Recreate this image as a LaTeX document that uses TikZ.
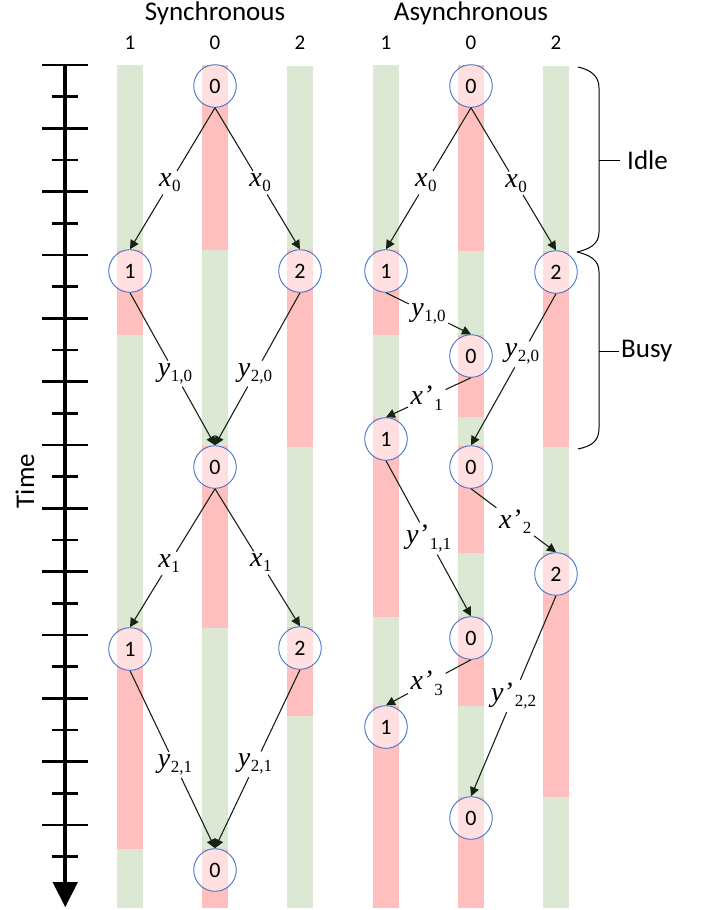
\documentclass[tikz,border=0pt]{standalone}
\usepackage{fontspec}
\setmainfont{Carlito}
\newfontfamily\lblserif{Liberation Serif}
\usetikzlibrary{arrows.meta}

\definecolor{idlegreen}{RGB}{220,232,212}
\definecolor{busypink}{RGB}{255,191,191}
\definecolor{nodeblue}{RGB}{68,114,196}
\definecolor{linkdark}{RGB}{22,36,22}

% italic symbol with an upright subscript
\newcommand{\sym}[2]{{\itshape #1}\kern0.5pt\raisebox{-5pt}{\fontsize{17}{17}\selectfont #2}}
% primed symbol, subscript set a little further right
\newcommand{\psym}[2]{{\itshape #1’}\kern2pt\raisebox{-5.5pt}{\fontsize{17}{17}\selectfont #2}}

% one coloured stretch of a worker's time line
\newcommand{\seg}[4]{\fill[#4] (#1-13,#2) rectangle (#1+13,#3);}

\tikzset{
  proc/.style={circle, draw=nodeblue, line width=0.9pt, minimum size=42.6pt,
    inner sep=0pt, fill=white, fill opacity=0.5, text opacity=1,
    font=\fontsize{22}{22}\selectfont},
  lab/.style={inner sep=2.5pt, font=\fontsize{28}{28}\selectfont\lblserif},
  lnk/.style={draw=linkdark, line width=1.1pt},
  arr/.style={-{Triangle[length=9pt,width=9pt]}},
  head/.style={font=\fontsize{27}{27}\selectfont},
  colnum/.style={font=\fontsize{21}{21}\selectfont},
  tick/.style={line width=2.8pt},
  brace/.style={line width=1pt},
}

% message from one node to another, label breaking the line
\newcommand{\msg}[4]{%
  \path (#1.south) -- (#2.north) node[lab,pos=#3] (#1-#2) {#4};
  \draw[lnk] (#1.south) -- (#1-#2);
  \draw[lnk,arr] (#1-#2) -- (#2.north);}

\begin{document}
\begin{tikzpicture}[x=1pt,y=-1pt]
\useasboundingbox (0,0) rectangle (702,910);

% ---- time lines: synchronous
\seg{130}{65}{250}{idlegreen}\seg{130}{250}{335}{busypink}\seg{130}{335}{628}{idlegreen}
\seg{130}{628}{849}{busypink}\seg{130}{849}{908}{idlegreen}
\seg{215}{65}{250}{busypink}\seg{215}{250}{446}{idlegreen}\seg{215}{446}{628}{busypink}
\seg{215}{628}{849}{idlegreen}\seg{215}{849}{908}{busypink}
\seg{300}{66}{250}{idlegreen}\seg{300}{250}{447}{busypink}\seg{300}{447}{627}{idlegreen}
\seg{300}{627}{716}{busypink}\seg{300}{716}{908}{idlegreen}
% ---- time lines: asynchronous
\seg{386}{65}{250}{idlegreen}\seg{386}{250}{335}{busypink}\seg{386}{335}{418}{idlegreen}
\seg{386}{418}{617}{busypink}\seg{386}{617}{706}{idlegreen}\seg{386}{706}{908}{busypink}
\seg{471}{65}{251}{busypink}\seg{471}{251}{335}{idlegreen}\seg{471}{335}{417}{busypink}
\seg{471}{417}{446}{idlegreen}\seg{471}{446}{553}{busypink}\seg{471}{553}{617}{idlegreen}
\seg{471}{617}{706}{busypink}\seg{471}{706}{797}{idlegreen}\seg{471}{797}{908}{busypink}
\seg{556}{66}{251}{idlegreen}\seg{556}{251}{447}{busypink}\seg{556}{447}{553}{idlegreen}
\seg{556}{553}{797}{busypink}\seg{556}{797}{908}{idlegreen}

% ---- headings
\node[head] (hsync) at (215,13) {Synchronous};
\node[head] (hasync) at (471,13) {Asynchronous};
\foreach \xx/\nn in {130/1,215/0,300/2,386/1,471/0,556/2}
  \node[colnum] (c\xx) at (\xx,43) {\nn};

% ---- time axis
\draw[line width=4.3pt] (65,65) -- (65,884);
\fill (52.5,882) -- (78,882) -- (65.25,907) -- cycle;
\foreach \k in {0,...,12}{
  \draw[tick] (42,65+63.33*\k) -- (88,65+63.33*\k);
  \draw[tick] (52,96.67+63.33*\k) -- (78,96.67+63.33*\k);
}
\node[head, rotate=90] (timelbl) at (25,481) {Time};

% ---- synchronous nodes
\node[proc] (s0a) at (215,86) {0};
\node[proc] (s1a) at (130,271) {1};
\node[proc] (s2a) at (300,271) {2};
\node[proc] (s0b) at (215,467) {0};
\node[proc] (s1b) at (130,649) {1};
\node[proc] (s2b) at (300,648) {2};
\node[proc] (s0c) at (215,870) {0};

% ---- asynchronous nodes
\node[proc] (a0a) at (471,86) {0};
\node[proc] (a1a) at (386,271) {1};
\node[proc] (a2a) at (556,272) {2};
\node[proc] (a0b) at (471,356) {0};
\node[proc] (a1b) at (386,439) {1};
\node[proc] (a0c) at (471,467) {0};
\node[proc] (a2b) at (556,574) {2};
\node[proc] (a0d) at (471,638) {0};
\node[proc] (a1c) at (386,727) {1};
\node[proc] (a0e) at (471,818) {0};

% ---- synchronous messages
\msg{s0a}{s1a}{0.53}{\sym{x}{0}}
\msg{s0a}{s2a}{0.53}{\sym{x}{0}}
\msg{s1a}{s0b}{0.53}{\sym{y}{1,0}}
\msg{s2a}{s0b}{0.53}{\sym{y}{2,0}}
\msg{s0b}{s1b}{0.54}{\sym{x}{1}}
\msg{s0b}{s2b}{0.54}{\sym{x}{1}}
\msg{s1b}{s0c}{0.53}{\sym{y}{2,1}}
\msg{s2b}{s0c}{0.53}{\sym{y}{2,1}}

% ---- asynchronous messages
\msg{a0a}{a1a}{0.53}{\sym{x}{0}}
\msg{a0a}{a2a}{0.53}{\sym{x}{0}}
\msg{a1a}{a0b}{0.5}{\sym{y}{1,0}}
\msg{a0b}{a1b}{0.52}{\psym{x}{1}}
\msg{a2a}{a0c}{0.4}{\sym{y}{2,0}}
\msg{a0c}{a2b}{0.52}{\psym{x}{2}}
\msg{a1b}{a0d}{0.5}{\psym{y}{1,1}}
\msg{a0d}{a1c}{0.52}{\psym{x}{3}}
\msg{a2b}{a0e}{0.5}{\psym{y}{2,2}}

% ---- phase braces
\draw[brace] (578,67) .. controls (591,70) and (599,76) .. (599,88)
  -- (599,232) .. controls (599,244) and (590,249) .. (577,252);
\draw[brace] (577,252) .. controls (590,255) and (599,260) .. (599,272)
  -- (599,428) .. controls (599,441) and (592,446) .. (578,449);
\draw[brace] (599,160) -- (620,160);
\draw[brace] (599,351) -- (619,351);
\node[head, anchor=west, inner sep=0pt] (idle) at (627,160) {Idle};
\node[head, anchor=west, inner sep=0pt] (busy) at (621,351) {Busy};
\end{tikzpicture}
\end{document}
